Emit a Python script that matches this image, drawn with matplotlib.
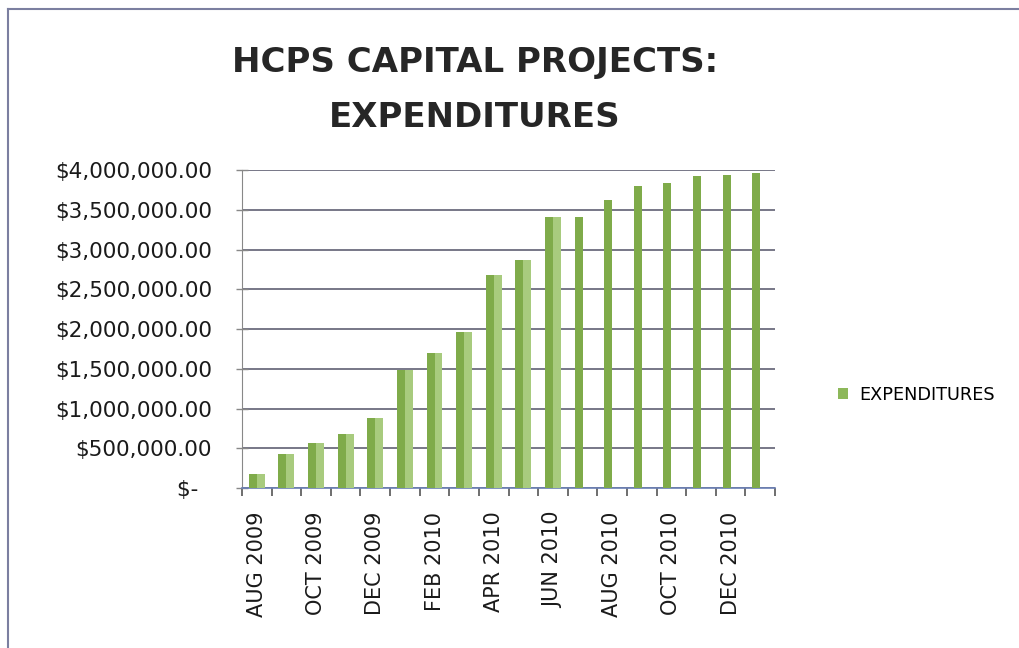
import numpy as np
import matplotlib
matplotlib.use('Agg')
import matplotlib.pyplot as plt
from matplotlib.patches import Patch
from matplotlib.lines import Line2D
from matplotlib.ticker import FuncFormatter

# monthly cumulative expenditures, Aug 2009 - Jan 2011
months = ['AUG 2009', 'SEP 2009', 'OCT 2009', 'NOV 2009', 'DEC 2009', 'JAN 2010',
          'FEB 2010', 'MAR 2010', 'APR 2010', 'MAY 2010', 'JUN 2010', 'JUL 2010',
          'AUG 2010', 'SEP 2010', 'OCT 2010', 'NOV 2010', 'DEC 2010', 'JAN 2011']
expenditures = [175000, 430000, 565000, 680000, 880000, 1490000,
                1700000, 1960000, 2675000, 2865000, 3410000, 3410000,
                3620000, 3800000, 3835000, 3920000, 3940000, 3960000]
series_name = 'EXPENDITURES'
title = 'HCPS CAPITAL PROJECTS:\nEXPENDITURES'

dark = '#7fab4a'
light = '#a8cb7e'
grid_col = '#6c6c7e'

fig = plt.figure(figsize=(10.2, 6.48), dpi=100)
ax = fig.add_axes([0.2373, 0.2469, 0.5225, 0.4907])

x = np.arange(len(months))
w = 0.27
# excel gradient fill, left half darker; scan washed out the light half from JUL 2010 on
ax.bar(x - w / 2, expenditures, width=w, color=dark, zorder=3)
ax.bar(x[:11] + w / 2, expenditures[:11], width=w, color=light, zorder=3)

ax.set_xlim(-0.5, len(months) - 0.5)
ax.set_ylim(0, 4000000)
ax.set_yticks(np.arange(0, 4000001, 500000))

def money(v, pos):
    if v == 0:
        return '$-  '
    return '${:,.2f}'.format(v)

ax.yaxis.set_major_formatter(FuncFormatter(money))
ax.yaxis.grid(True, color=grid_col, linewidth=1.3, zorder=0)
ax.tick_params(axis='y', direction='inout', length=9, width=1, color='#888888',
               labelsize=15.5, pad=17, labelcolor='#1a1a1a')

ax.set_xticks(x[::2])
ax.set_xticklabels(months[::2], rotation=90, fontsize=15, color='#1a1a1a')
ax.tick_params(axis='x', which='major', length=0, pad=17)
ax.set_xticks(np.arange(-0.5, len(months)), minor=True)
ax.tick_params(axis='x', which='minor', length=6, width=1.2, color='#555555')

for s in ['top', 'right']:
    ax.spines[s].set_visible(False)
ax.spines['left'].set_color('#888888')
ax.spines['bottom'].set_color('#6a7fb5')
ax.spines['bottom'].set_linewidth(1.2)

fig.text(475 / 1020, 1 - 90 / 648, title, ha='center', va='center',
         fontsize=24.5, fontweight='bold', color='#262626', linespacing=1.85)

fig.legend(handles=[Patch(facecolor='#8db85a', label=series_name)],
           loc='center left', bbox_to_anchor=(822 / 1020, 1 - 395 / 648),
           frameon=False, fontsize=12.7, handlelength=0.6, handleheight=0.6,
           handletextpad=0.6)

# scanned page frame
fig.add_artist(Line2D([8 / 1020, 1], [1 - 9 / 648] * 2, color='#7b7fa0', lw=1.5))
fig.add_artist(Line2D([8 / 1020] * 2, [0, 1 - 9 / 648], color='#7b7fa0', lw=1.5))

fig.savefig('out.png', dpi=100)
